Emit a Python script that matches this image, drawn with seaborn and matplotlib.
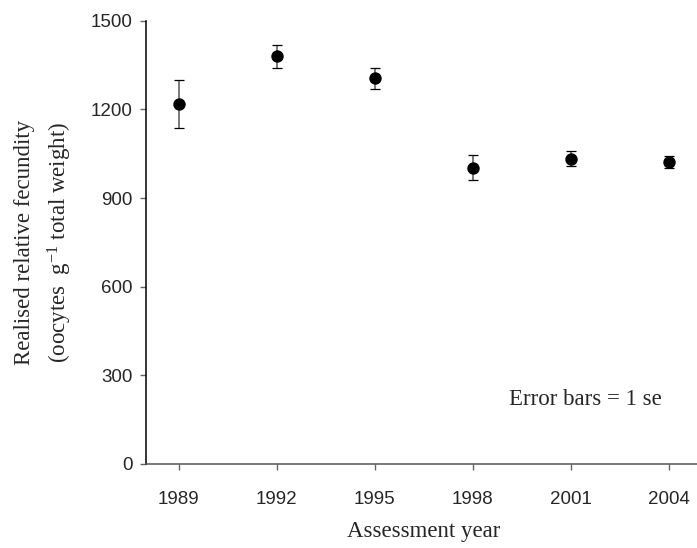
import matplotlib
matplotlib.use("Agg")
import matplotlib.pyplot as plt
import seaborn as sns
import pandas as pd

# Realised relative fecundity by assessment year (mean +/- 1 se)
years = [1989, 1992, 1995, 1998, 2001, 2004]
fecundity = [1218, 1379, 1305, 1003, 1033, 1023]
se = [80, 38, 36, 42, 25, 20]

df = pd.DataFrame({"year": years, "fecundity": fecundity, "se": se})

sns.set_style("ticks")
plt.rcParams["mathtext.default"] = "regular"

fig = plt.figure(figsize=(6.97, 5.48), dpi=100)
ax = fig.add_axes([146 / 697, 84 / 548, 555.4 / 697, 443.3 / 548])

eb = ax.errorbar(df["year"], df["fecundity"], yerr=df["se"], fmt="none",
                 ecolor="black", elinewidth=1.3, capsize=3.3, capthick=0.9, zorder=2)
eb[2][0].set_color("#707070")
sns.scatterplot(data=df, x="year", y="fecundity", ax=ax, color="black",
                s=80, edgecolor="black", linewidth=0, zorder=3)

ax.set_xlim(1988, 2005)
ax.set_ylim(0, 1500)
ax.set_xticks(years)
ax.set_yticks([0, 300, 600, 900, 1200, 1500])
for lab in ax.get_xticklabels() + ax.get_yticklabels():
    lab.set_fontfamily("Liberation Sans")
    lab.set_fontsize(13.5)
ax.tick_params(axis="both", direction="out", length=4.5, width=1.0, color="#666666")
ax.tick_params(axis="x", pad=15)
ax.tick_params(axis="y", pad=5)
sns.despine(ax=ax)
ax.spines["left"].set_linewidth(1.1)
ax.spines["left"].set_color("black")
ax.spines["bottom"].set_linewidth(1.1)
ax.spines["bottom"].set_color("#555555")

ax.set_xlabel("Assessment year", family="Liberation Serif", fontsize=16.5, labelpad=9)
ax.set_ylabel("")

fig.text(25 / 697, 0.558, "Realised relative fecundity", rotation=90,
         family="Liberation Serif", fontsize=16.5, ha="center", va="center")
fig.text(60 / 697, 0.558, "(oocytes  g$^{-1}$ total weight)", rotation=90,
         family="Liberation Serif", fontsize=16.5, ha="center", va="center")

ax.text(2003.8, 218, "Error bars = 1 se", family="Liberation Serif",
        fontsize=16.5, ha="right", va="center")

fig.savefig("out.png", dpi=100)
